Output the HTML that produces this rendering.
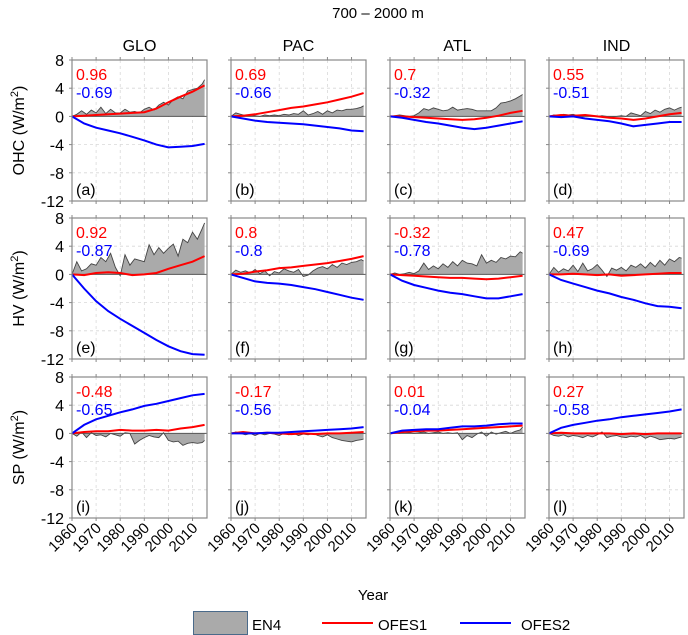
<!DOCTYPE html>
<html><head><meta charset="utf-8">
<style>
body{margin:0;background:#fff;}
svg{display:block;font-family:"Liberation Sans",Arial,sans-serif;}
</style></head>
<body>
<svg id="chart" width="688" height="635" viewBox="0 0 688 635" xmlns="http://www.w3.org/2000/svg">
<text x="378" y="18" font-size="15" text-anchor="middle">700 – 2000 m</text>
<text x="373" y="600" font-size="15" text-anchor="middle">Year</text>
<g>
<rect x="193.5" y="611.5" width="54" height="23" fill="#aaaaaa" stroke="#4a6a8a"/>
<text x="252" y="630" font-size="15">EN4</text>
<line x1="322" y1="623" x2="373" y2="623" stroke="#ff0000" stroke-width="2"/>
<text x="378" y="630" font-size="15">OFES1</text>
<line x1="460" y1="623" x2="511" y2="623" stroke="#0000ff" stroke-width="2"/>
<text x="521" y="630" font-size="15">OFES2</text>
</g>
</svg>
<script>
const yearsLine=[1960,1965,1970,1975,1980,1985,1990,1995,2000,2005,2010,2015];
const yearsEn4=[1960,1962,1964,1966,1968,1970,1972,1974,1976,1978,1980,1982,1984,1986,1988,1990,1992,1994,1996,1998,2000,2002,2004,2006,2008,2010,2012,2014,2015];
const columns=["GLO","PAC","ATL","IND"];
const rowTitles=["OHC","HV","SP"];
const yTicks=[8,4,0,-4,-8,-12];
const xTicks=[1960,1970,1980,1990,2000,2010];
const letters=["a","b","c","d","e","f","g","h","i","j","k","l"];
const corr1=["0.96","0.69","0.7","0.55","0.92","0.8","-0.32","0.47","-0.48","-0.17","0.01","0.27"];
const corr2=["-0.69","-0.66","-0.32","-0.51","-0.87","-0.8","-0.78","-0.69","-0.65","-0.56","-0.04","-0.58"];
const ofes1=[
[0,0.1,0.2,0.3,0.4,0.5,0.6,1.1,2.0,2.8,3.5,4.4],
[0,0.1,0.3,0.6,0.9,1.2,1.4,1.7,2.0,2.4,2.8,3.3],
[0,0,-0.1,-0.2,-0.3,-0.4,-0.5,-0.4,-0.2,0.1,0.5,0.8],
[0,0.2,0.1,0.2,0,-0.2,-0.3,-0.5,-0.3,0,0.3,0.5],
[0,-0.1,0.2,0.3,0.2,-0.1,0,0.2,0.8,1.3,1.8,2.6],
[0,0.1,0.4,0.6,0.9,1.0,1.2,1.4,1.6,1.9,2.2,2.6],
[0,-0.1,-0.2,-0.3,-0.4,-0.5,-0.5,-0.6,-0.7,-0.6,-0.4,-0.2],
[0,0,0.1,0,-0.1,0,-0.2,-0.1,0,0.1,0.2,0.2],
[0,0.2,0.3,0.3,0.5,0.4,0.4,0.5,0.4,0.7,0.9,1.2],
[0,0.2,0,0.1,0,-0.1,0,-0.1,0,0,0.1,0.2],
[0,0.2,0.3,0.4,0.4,0.5,0.6,0.7,0.8,0.9,1.0,1.1],
[0,0.1,0,0,0,0,-0.1,0,-0.1,0,0,0]];
const ofes2=[
[0,-1.0,-1.6,-2.0,-2.4,-2.9,-3.4,-4.0,-4.4,-4.3,-4.2,-3.9],
[0,-0.3,-0.6,-0.8,-0.9,-1.0,-1.1,-1.3,-1.5,-1.7,-2.0,-2.1],
[0,-0.2,-0.5,-0.8,-1.0,-1.3,-1.6,-1.8,-1.6,-1.3,-1.0,-0.7],
[0,-0.1,0,-0.3,-0.5,-0.7,-1.0,-1.4,-1.2,-1.0,-0.8,-0.8],
[0,-2.0,-3.8,-5.2,-6.3,-7.3,-8.3,-9.3,-10.2,-10.9,-11.3,-11.4],
[0,-0.5,-1.0,-1.2,-1.3,-1.5,-1.8,-2.1,-2.5,-2.9,-3.3,-3.6],
[0,-0.9,-1.5,-1.9,-2.3,-2.6,-2.8,-3.1,-3.4,-3.4,-3.1,-2.8],
[0,-0.8,-1.3,-1.8,-2.3,-2.7,-3.2,-3.6,-4.1,-4.5,-4.6,-4.8],
[0,1.2,2.0,2.5,3.0,3.4,3.9,4.2,4.6,5.0,5.4,5.6],
[0,0,0,0.1,0.1,0.2,0.3,0.4,0.5,0.6,0.7,0.9],
[0,0.4,0.5,0.6,0.6,0.8,1.0,1.0,1.1,1.3,1.4,1.4],
[0,0.8,1.2,1.5,1.8,2.0,2.3,2.5,2.7,2.9,3.1,3.4]];
const en4=[
[0,0.3,0.8,0.3,0.9,0.5,1.3,0.4,1.0,0.5,0.5,1.0,0.6,0.7,0.5,1.0,1.3,0.9,1.6,2.0,1.6,2.4,2.8,2.5,3.6,3.8,4.0,4.6,5.2],
[0,0.5,0.3,0.1,0.2,0.1,0,0.2,0.1,0.2,0.1,0.3,0.2,0.4,0.3,0.8,0.2,0.4,0.7,0.3,0.8,0.5,0.9,0.8,1.0,1.0,1.1,1.3,1.5],
[0,0.1,0.2,0.1,0,0.1,0.5,1.1,0.9,1.2,1.0,0.8,0.9,1.3,0.9,1.0,1.1,1.0,0.8,0.8,0.8,0.8,1.2,1.9,2.0,2.2,2.5,2.9,3.1],
[0,0.2,0.1,0.3,0.2,0.3,0.1,0,0.2,0.1,0,0.1,0,-0.1,0,0.1,0,0.5,0.3,0.1,0.7,0.4,0.9,0.6,1.0,1.2,0.9,1.2,1.3],
[0,1.8,0.5,0.8,1.5,1.3,2.4,1.8,3.0,1.0,-0.2,2.8,1.3,2.2,2.0,1.8,4.2,2.8,3.8,3.0,3.7,4.3,2.6,5.0,4.5,6.0,5.0,6.5,7.3],
[0,0.6,0.3,0.5,0.2,0.7,0.1,0.5,-0.2,0.4,0.2,0.8,0.5,0.3,0.7,-0.3,-0.1,0.5,0.9,1.1,0.8,1.4,1.0,1.6,1.4,1.7,1.8,2.1,1.9],
[0,0.2,0,0.1,0.3,0.1,0.5,1.6,0.7,1.2,0.8,1.5,1.0,1.8,1.2,2.0,1.6,1.5,1.2,2.8,1.6,2.0,1.7,2.4,2.2,2.6,2.5,3.2,3.0],
[0,1.0,0.3,0.8,0.5,1.3,0.4,1.6,0.5,0.8,1.4,0.6,-0.3,0.9,0.6,1.0,0.5,1.3,1.0,1.5,0.9,1.7,1.1,2.0,1.3,2.2,1.8,2.4,2.3],
[0,-0.4,0.2,-0.6,0.1,-0.3,-0.2,-0.5,0,-0.2,-0.4,0.1,0,-1.5,-1.0,-0.6,-0.3,-0.5,-0.6,0.1,-1.0,-1.2,-1.1,-1.7,-1.4,-1.3,-1.4,-1.3,-1.0],
[0,0.2,0,-0.2,0,-0.3,0,-0.2,0,-0.1,-0.3,0,-0.2,0,-0.3,-0.1,-0.2,0,-0.3,-0.5,-0.2,-0.6,-0.8,-1.0,-1.1,-1.2,-1.0,-0.9,-0.8],
[0,0.1,0,0.2,0.1,0,0.1,0.2,0,0.1,0.2,0,0.1,0,0.1,-0.9,-0.3,-0.6,-0.1,0.2,-0.4,0.2,-0.1,0.1,0.3,0,0.3,0.5,0.9],
[0,-0.3,-0.4,-0.2,-0.5,-0.3,-0.4,-0.6,-0.3,-0.5,-0.2,0.2,-0.6,-0.4,-0.3,-0.5,-0.6,-0.4,-0.5,-0.3,-0.7,-0.4,-0.6,-0.9,-0.8,-0.7,-0.8,-0.6,-0.5]];

const NS="http://www.w3.org/2000/svg";
const svg=document.getElementById('chart');
function mk(tag,attrs,parent){const e=document.createElementNS(NS,tag);for(const k in attrs)e.setAttribute(k,attrs[k]);(parent||svg).appendChild(e);return e;}
const colX=[72,231,390,549], rowY=[60,218,377], PW=135, PH=141;
const X0=1960,X1=2016,YMAX=8,YMIN=-12;

columns.forEach((c,i)=>{
  const t=mk('text',{x:colX[i]+PW/2,y:51,'font-size':16,'text-anchor':'middle'});
  
  
  t.textContent=c;
});
rowTitles.forEach((r,i)=>{
  const cy=rowY[i]+PH/2, cx=24;
  const t=mk('text',{x:cx,y:cy,'font-size':16,'text-anchor':'middle',transform:`rotate(-90 ${cx} ${cy})`});
  
  
  t.innerHTML=r+' (W/m<tspan dy="-6" font-size="11">2</tspan><tspan dy="6">)</tspan>';
});

for(let p=0;p<12;p++){
  const r=Math.floor(p/4), c=p%4;
  const L=colX[c], T=rowY[r];
  const sx=y=>L+(y-X0)/(X1-X0)*PW;
  const sy=v=>T+(YMAX-v)/(YMAX-YMIN)*PH;
  const g=mk('g',{});
  
  
  yTicks.forEach(v=>{
    if(v!==YMAX&&v!==YMIN&&v!==0){const l=mk('line',{x1:L,x2:L+PW,y1:sy(v),y2:sy(v),stroke:'#d8d8d8','stroke-dasharray':'3,3','stroke-width':0.8},g);
      
      }
    const tk=mk('line',{x1:L-3,x2:L,y1:sy(v),y2:sy(v),stroke:'#888'},g);
    
    
    if(c===0){const t=mk('text',{x:L-8,y:sy(v)+6,'font-size':16,'text-anchor':'end'},g);
      
      
      t.textContent=v;}
  });
  xTicks.forEach(y=>{
    if(y!==X0){const l=mk('line',{x1:sx(y),x2:sx(y),y1:T,y2:T+PH,stroke:'#d8d8d8','stroke-dasharray':'3,3','stroke-width':0.8},g);
      
      }
    const tk=mk('line',{x1:sx(y),x2:sx(y),y1:T+PH,y2:T+PH+3,stroke:'#888'},g);
    
    
    mk('line',{x1:sx(y),x2:sx(y),y1:T-3,y2:T,stroke:'#888'},g);
    if(r===2){const tx=sx(y)+6, ty=T+PH+11;
      const t=mk('text',{x:tx,y:ty,'font-size':15,'text-anchor':'end',transform:`rotate(-45 ${tx} ${ty})`},g);
      
      
      t.textContent=y;}
  });
  let d=`M${sx(yearsEn4[0])},${sy(0)}`;
  yearsEn4.forEach((y,i)=>{d+=`L${sx(y).toFixed(1)},${sy(en4[p][i]).toFixed(1)}`;});
  d+=`L${sx(yearsEn4[yearsEn4.length-1])},${sy(0)}Z`;
  const area=mk('path',{d:d,fill:'#aaaaaa',stroke:'none'},g);
  
  
  const en4l=mk('polyline',{points:yearsEn4.map((y,i)=>sx(y).toFixed(1)+','+sy(en4[p][i]).toFixed(1)).join(' '),fill:'none',stroke:'#444','stroke-width':0.9},g);
  
  
  const z=mk('line',{x1:L,x2:L+PW,y1:sy(0),y2:sy(0),stroke:'#555','stroke-width':1},g);
  
  
  const l1=mk('polyline',{points:yearsLine.map((y,i)=>sx(y).toFixed(1)+','+sy(ofes1[p][i]).toFixed(1)).join(' '),fill:'none',stroke:'#ff0000','stroke-width':2},g);
  
  
  const l2=mk('polyline',{points:yearsLine.map((y,i)=>sx(y).toFixed(1)+','+sy(ofes2[p][i]).toFixed(1)).join(' '),fill:'none',stroke:'#0000ff','stroke-width':2},g);
  
  
  const box=mk('rect',{x:L,y:T,width:PW,height:PH,fill:'none',stroke:'#888','stroke-width':1.2},g);
  
  
  const c1=mk('text',{x:L+4,y:T+20,'font-size':16,fill:'#ff0000'},g);
  
  
  c1.textContent=corr1[p];
  const c2=mk('text',{x:L+4,y:T+38,'font-size':16,fill:'#0000ff'},g);
  
  
  c2.textContent=corr2[p];
  const lt=mk('text',{x:L+4,y:T+PH-6,'font-size':16},g);
  
  
  lt.textContent='('+letters[p]+')';
}
</script>
</body></html>
